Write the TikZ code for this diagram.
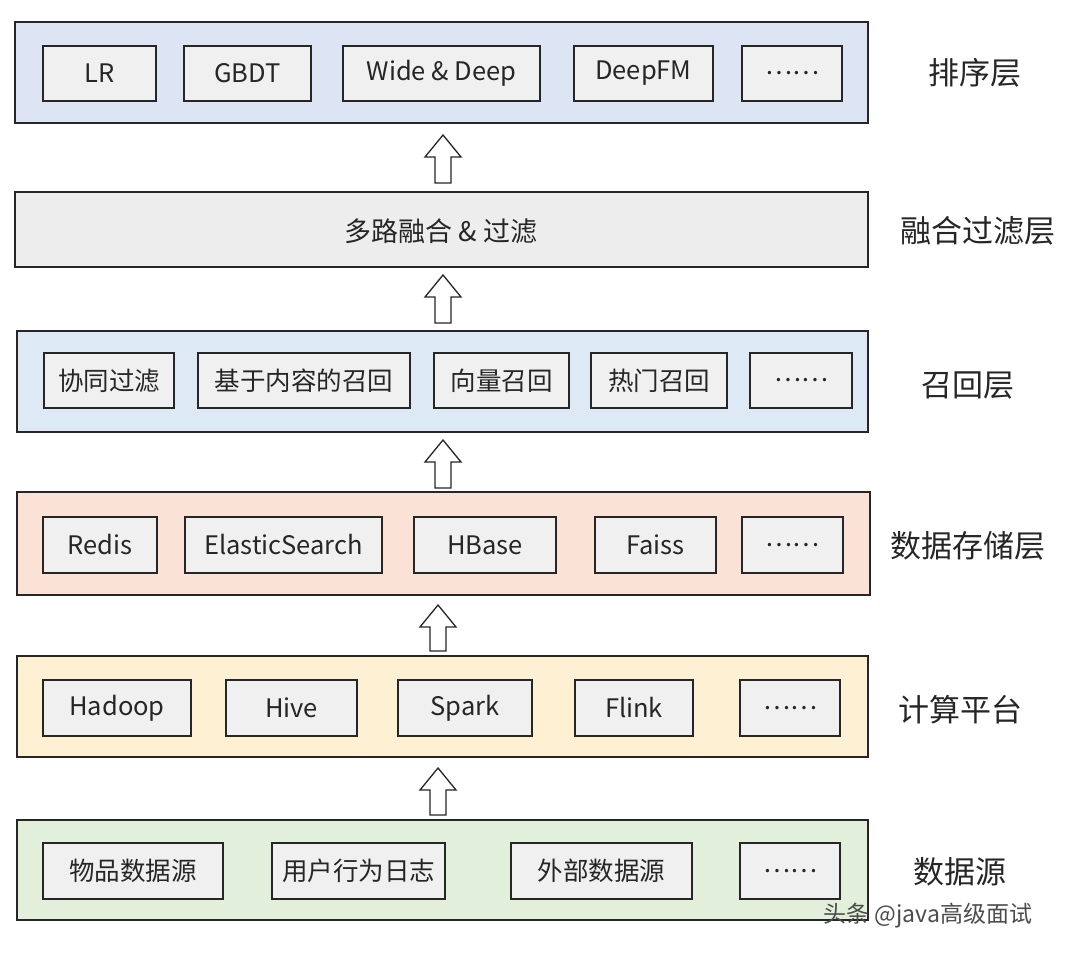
\documentclass[tikz,border=0pt]{standalone}
\usepackage{fontspec}
\setmainfont{Noto Sans CJK SC}
\begin{document}
\begin{tikzpicture}[x=1pt,y=-1pt,
 layer/.style={draw=black!85,line width=1.6pt},
 item/.style={draw=black!85,line width=1.6pt,fill=black!6},
 itxt/.style={font=\fontsize{25.5}{29}\selectfont,text=black!85},
 lbl/.style={font=\fontsize{31}{35}\selectfont,text=black!85,anchor=center}]
\useasboundingbox[fill=white] (0,0) rectangle (1080,957);
\newcommand\bx[6]{\draw[item] (#2,#4) rectangle (#3,#5); \node[itxt] (#1) at ({(#2+#3)/2},{(#4+#5)/2}) {#6};}
\newcommand\uparr[3]{\draw[line width=1.3pt,draw=black!85,fill=white] (#1-8,#3) -- (#1-8,#2+22) -- (#1-18,#2+22) -- (#1,#2) -- (#1+18,#2+22) -- (#1+8,#2+22) -- (#1+8,#3) -- cycle;}
% layers
\draw[layer,fill={rgb,255:red,221;green,228;blue,243}] (15,22) rectangle (868,123);
\draw[layer,fill=black!7] (15,192) rectangle (868,267);
\draw[layer,fill={rgb,255:red,222;green,233;blue,246}] (17,331) rectangle (868,432);
\draw[layer,fill={rgb,255:red,251;green,226;blue,214}] (17,492) rectangle (870,595);
\draw[layer,fill={rgb,255:red,253;green,240;blue,211}] (17,656) rectangle (868,757);
\draw[layer,fill={rgb,255:red,226;green,239;blue,218}] (17,820) rectangle (868,920);
% row 1
\bx{lr}{43}{156}{46}{101}{LR}
\bx{gbdt}{184}{311}{46}{101}{GBDT}
\bx{wd}{343}{540}{46}{101}{Wide \& Deep}
\bx{dfm}{574}{713}{46}{101}{DeepFM}
\bx{d1}{742}{842}{46}{101}{……}
\node[itxt,font=\fontsize{27}{31}\selectfont] (fuse) at (441,231) {多路融合 \& 过滤};
% row 3
\bx{xt}{44}{174}{353}{408}{协同过滤}
\bx{nr}{198}{410}{353}{408}{基于内容的召回}
\bx{xl}{434}{569}{353}{408}{向量召回}
\bx{rm}{591}{727}{353}{408}{热门召回}
\bx{d3}{750}{852}{353}{408}{……}
% row 4
\bx{redis}{43}{157}{517}{573}{Redis}
\bx{es}{185}{382}{517}{573}{ElasticSearch}
\bx{hb}{414}{556}{517}{573}{HBase}
\bx{fa}{595}{716}{517}{573}{Faiss}
\bx{d4}{742}{843}{517}{573}{……}
% row 5
\bx{ha}{43}{191}{680}{736}{Hadoop}
\bx{hi}{226}{357}{680}{736}{Hive}
\bx{sp}{398}{532}{680}{736}{Spark}
\bx{fl}{575}{693}{680}{736}{Flink}
\bx{d5}{740}{840}{680}{736}{……}
% row 6
\bx{wp}{43}{223}{843}{899}{物品数据源}
\bx{yh}{272}{445}{843}{899}{用户行为日志}
\bx{wb}{511}{692}{843}{899}{外部数据源}
\bx{d6}{740}{840}{843}{899}{……}
% arrows
\uparr{443}{135}{183}
\uparr{443}{275}{323}
\uparr{443}{440}{488}
\uparr{438}{605}{651}
\uparr{438}{768}{815}
% labels
\node[lbl] (l1) at (975,73) {排序层};
\node[lbl] (l2) at (978,231) {融合过滤层};
\node[lbl] (l3) at (968,385) {召回层};
\node[lbl] (l4) at (968,546) {数据存储层};
\node[lbl] (l5) at (960,710) {计算平台};
\node[lbl] (l6) at (960,872) {数据源};
\node[font=\fontsize{23}{26}\selectfont,text=black!70] (wm) at (928,916) {头条 @java高级面试};
\end{tikzpicture}
\end{document}
